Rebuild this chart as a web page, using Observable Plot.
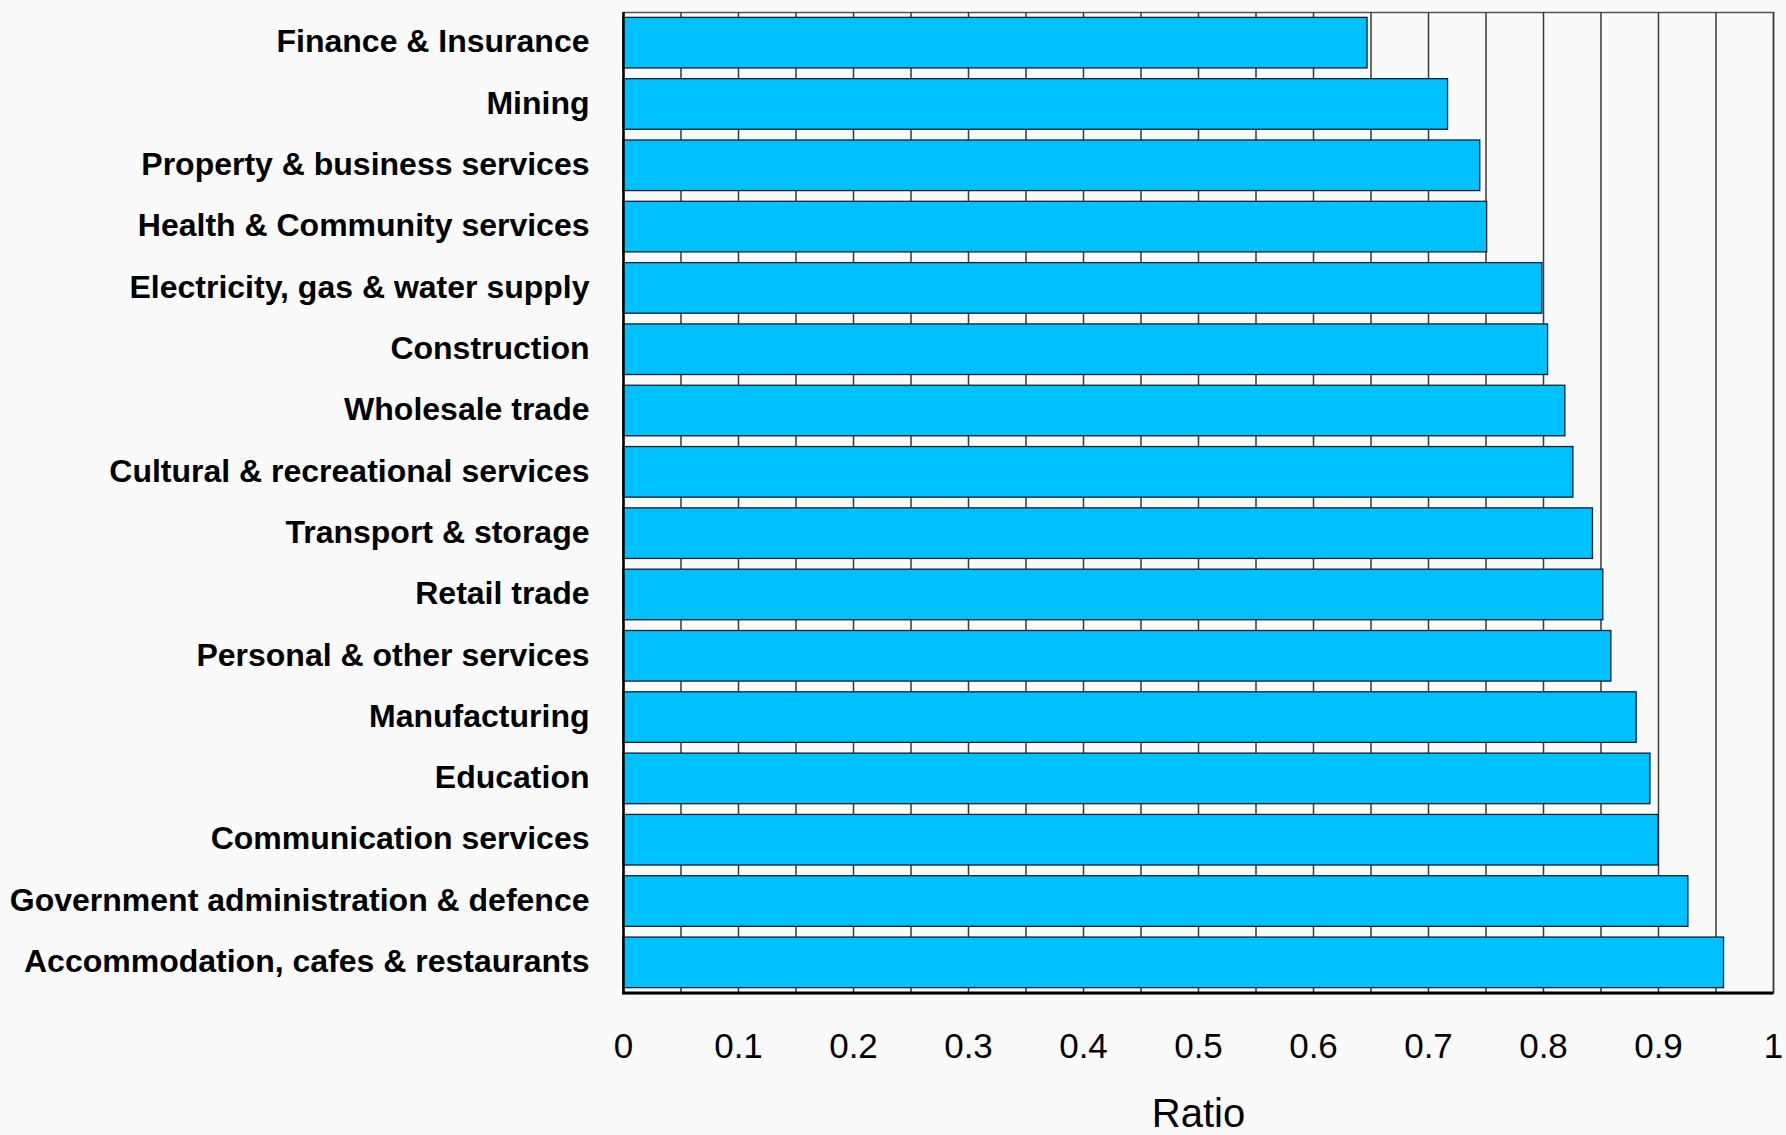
<!DOCTYPE html>
<html>
<head>
<meta charset="utf-8">
<script src="https://cdn.jsdelivr.net/npm/d3@7"></script>
<script src="https://cdn.jsdelivr.net/npm/@observablehq/plot@0.6"></script>
<style>
  html, body { margin: 0; padding: 0; background: #fafafa; }
  #chart svg { display: block; background: #fafafa; }
</style>
</head>
<body>
<div id="chart"></div>
<script>
const categories = [
  "Finance & Insurance",
  "Mining",
  "Property & business services",
  "Health & Community services",
  "Electricity, gas & water supply",
  "Construction",
  "Wholesale trade",
  "Cultural & recreational services",
  "Transport & storage",
  "Retail trade",
  "Personal & other services",
  "Manufacturing",
  "Education",
  "Communication services",
  "Government administration & defence",
  "Accommodation, cafes & restaurants"
];
const ratios = [0.647, 0.717, 0.745, 0.751, 0.799, 0.804, 0.819, 0.826, 0.843, 0.852, 0.859, 0.881, 0.893, 0.900, 0.926, 0.957];
const xTicks = [0, 0.1, 0.2, 0.3, 0.4, 0.5, 0.6, 0.7, 0.8, 0.9, 1];
const gridTicks = [0.05, 0.1, 0.15, 0.2, 0.25, 0.3, 0.35, 0.4, 0.45, 0.5, 0.55, 0.6, 0.65, 0.7, 0.75, 0.8, 0.85, 0.9, 0.95, 1];
const xLabel = "Ratio";

const data = categories.map((c, i) => ({category: c, ratio: ratios[i]}));

const W = 1786, H = 1135;
const mL = 623, mR = 13, mT = 12, mB = 142;

const plot = Plot.plot({
  width: W,
  height: H,
  marginLeft: mL,
  marginRight: mR,
  marginTop: mT,
  marginBottom: mB,
  style: {background: "#fafafa", fontFamily: "'Liberation Sans', Arial, sans-serif", color: "#000"},
  x: {domain: [0, 1]},
  y: {domain: categories, paddingInner: 0.175, paddingOuter: 0.0875, round: false},
  marks: [
    Plot.frame({stroke: "#555", strokeWidth: 1.5}),
    Plot.ruleX(gridTicks, {stroke: "#3a3a3a", strokeWidth: 1.5}),
    Plot.barX(data, {x: "ratio", y: "category", fill: "#00c1ff", stroke: "#102030", strokeWidth: 1.3}),
    Plot.ruleX([0], {stroke: "#000", strokeWidth: 2.5}),
    Plot.axisY({tickSize: 0, tickPadding: 34, fontSize: 32, fontWeight: "bold", label: null, fill: "#000", dy: -1}),
    Plot.axisX({ticks: xTicks, tickSize: 0, tickPadding: 40, fontSize: 35, tickFormat: d => String(d), label: null, fill: "#000"}),
    Plot.text([xLabel], {frameAnchor: "bottom", dy: 133, lineAnchor: "bottom", fontSize: 40, fill: "#000"})
  ]
});

// thick bottom axis line drawn from the plot's own scales
const xs = plot.scale("x").range;
const ys = plot.scale("y").range;
d3.select(plot).append("line")
  .attr("x1", xs[0] - 1).attr("x2", xs[1])
  .attr("y1", ys[1]).attr("y2", ys[1])
  .attr("stroke", "#000").attr("stroke-width", 3);

document.getElementById("chart").appendChild(plot);
</script>
</body>
</html>
